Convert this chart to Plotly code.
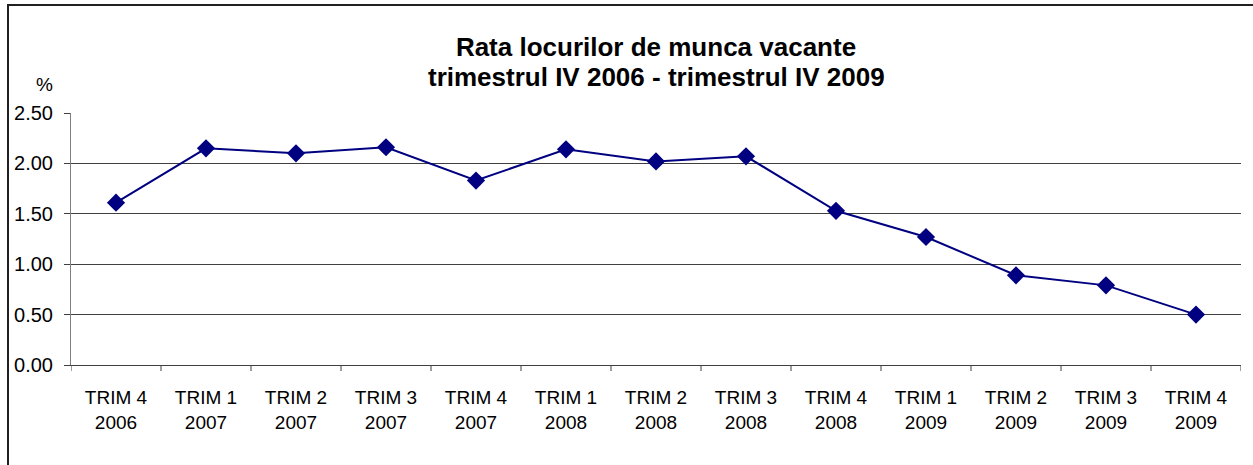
import plotly.graph_objects as go

quarters = ["TRIM 4", "TRIM 1", "TRIM 2", "TRIM 3", "TRIM 4", "TRIM 1", "TRIM 2",
            "TRIM 3", "TRIM 4", "TRIM 1", "TRIM 2", "TRIM 3", "TRIM 4"]
years = ["2006", "2007", "2007", "2007", "2007", "2008", "2008",
         "2008", "2008", "2009", "2009", "2009", "2009"]
rates = [1.61, 2.15, 2.10, 2.16, 1.83, 2.14, 2.02, 2.07, 1.53, 1.27, 0.89, 0.79, 0.50]
y_ticks = [0.0, 0.5, 1.0, 1.5, 2.0, 2.5]
title_line1 = "Rata locurilor de munca vacante"
title_line2 = "trimestrul IV 2006 - trimestrul IV 2009"

cats = [f"{q}<br>{y}" for q, y in zip(quarters, years)]
x_idx = list(range(len(cats)))

W, H = 1253, 465
L, R, T, B = 71, 12, 113, 100
pw, ph = W - L - R, H - T - B

FONT = "Liberation Sans, Arial, sans-serif"

fig = go.Figure()
fig.add_trace(go.Scatter(
    x=x_idx, y=rates, mode="lines+markers",
    line=dict(color="#000080", width=2),
    marker=dict(symbol="diamond", size=14, color="#000080"),
    hoverinfo="y",
))

fig.update_layout(
    width=W, height=H,
    margin=dict(l=L, r=R, t=T, b=B, pad=0),
    paper_bgcolor="white", plot_bgcolor="white",
    showlegend=False,
    font=dict(family=FONT, color="black", size=20),
    title=dict(
        text=f"<b>{title_line1}</b>",
        x=0.5, xref="paper", xanchor="center",
        y=1 - 47 / H, yref="container", yanchor="middle",
        font=dict(family=FONT, size=26, color="black"),
    ),
    xaxis=dict(
        range=[-0.5, len(cats) - 0.5],
        tickmode="array", tickvals=x_idx, ticktext=cats,
        showgrid=False, zeroline=False,
        showline=True, linecolor="#404040", linewidth=1,
        ticks="", tickfont=dict(size=19, family=FONT),
        ticklabelstandoff=15,
    ),
    yaxis=dict(
        range=[0, 2.5],
        tickmode="array", tickvals=y_ticks,
        tickformat=".2f",
        showgrid=True, gridcolor="#404040", gridwidth=1,
        zeroline=False,
        showline=True, linecolor="#808080", linewidth=1,
        ticks="outside", ticklen=6, tickcolor="#404040",
        tickfont=dict(size=20, family=FONT),
        ticklabelstandoff=7,
    ),
)

# second title line
fig.add_annotation(text=f"<b>{title_line2}</b>", xref="paper", yref="paper",
                   x=0.5, y=(H - B - 77) / ph, xanchor="center", yanchor="middle",
                   showarrow=False, font=dict(size=26, family=FONT, color="black"))

# category boundary tick marks on the x axis
for b in [i - 0.5 for i in range(len(cats) + 1)]:
    fig.add_shape(type="line", xref="x", yref="paper",
                  x0=b, x1=b, y0=0, y1=-6 / ph,
                  line=dict(color="#404040", width=1))

# "%" unit label
fig.add_annotation(text="%", xref="paper", yref="paper",
                   x=(44 - L) / pw, y=(H - B - 85) / ph,
                   xanchor="center", yanchor="middle", showarrow=False,
                   font=dict(size=19, family=FONT, color="black"))

# chart border (left and top visible)
fig.add_shape(type="rect", xref="paper", yref="paper",
              x0=(8 - L) / pw, x1=(1262 - L) / pw,
              y0=(H - B - 480) / ph, y1=(H - B - 5) / ph,
              line=dict(color="#202020", width=2), fillcolor="rgba(0,0,0,0)",
              layer="below")

fig.write_html("out.html", config={"displayModeBar": False},
               post_script="document.body.style.margin='0';")
